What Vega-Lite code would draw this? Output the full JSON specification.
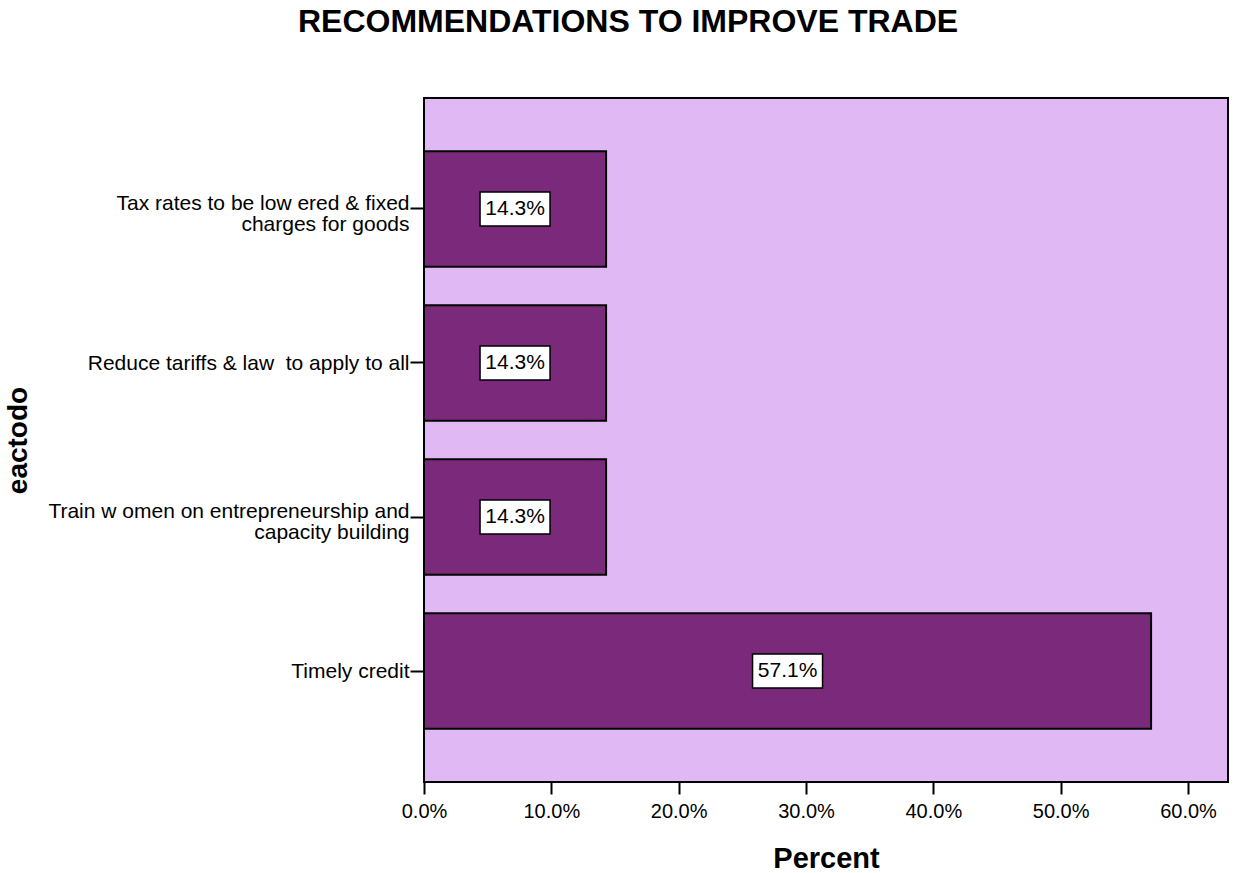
{
  "$schema": "https://vega.github.io/schema/vega-lite/v6.json",
  "autosize": "none",
  "width": 804,
  "height": 684,
  "padding": {"left": 424, "top": 98, "right": 8, "bottom": 91},
  "background": "white",
  "title": {
    "text": "RECOMMENDATIONS TO IMPROVE TRADE",
    "font": "Liberation Sans",
    "fontSize": 32,
    "fontWeight": "bold",
    "color": "black",
    "anchor": "middle",
    "dx": -198,
    "offset": 59
  },
  "config": {
    "font": "Liberation Sans",
    "view": {"stroke": "black", "strokeWidth": 2, "fill": "#E0B9F4"}
  },
  "data": {
    "values": [
      {"eactodo": "Tax rates to be low ered & fixed\ncharges for goods", "pct": 0.143},
      {"eactodo": "Reduce tariffs & law\u00a0 to apply to all", "pct": 0.143},
      {"eactodo": "Train w omen on entrepreneurship and\ncapacity building", "pct": 0.143},
      {"eactodo": "Timely credit", "pct": 0.571}
    ]
  },
  "encoding": {
    "y": {
      "field": "eactodo",
      "type": "nominal",
      "sort": null,
      "scale": {"paddingInner": 0.25, "paddingOuter": 0.345},
      "axis": {
        "title": "eactodo",
        "titleFontSize": 28,
        "titleFontWeight": "bold",
        "titleColor": "black",
        "titleAngle": -90,
        "titleAlign": "center",
        "titleBaseline": "middle",
        "titleX": -406,
        "titleY": 342,
        "domain": false,
        "ticks": true,
        "tickSize": 14,
        "tickWidth": 2,
        "tickColor": "black",
        "labelPadding": 1,
        "labelFontSize": 21,
        "labelLineHeight": 21,
        "labelColor": "black",
        "labelLimit": 500,
        "labelOffset": {"condition": {"test": "indexof(datum.value, '\\n') >= 0", "value": -5}, "value": 1},
        "labelExpr": "split(datum.label, '\\n')"
      }
    }
  },
  "layer": [
    {
      "mark": {"type": "bar", "fill": "#7B297B", "stroke": "black", "strokeWidth": 2},
      "encoding": {
        "x": {
          "field": "pct",
          "type": "quantitative",
          "scale": {"domain": [0, 0.6314], "nice": false, "zero": true},
          "axis": {
            "title": "Percent",
            "titleFontSize": 29,
            "titleFontWeight": "bold",
            "titleColor": "black",
            "titleBaseline": "middle",
            "titleY": 76,
            "values": [0, 0.1, 0.2, 0.3, 0.4, 0.5, 0.6],
            "format": ".1%",
            "grid": false,
            "domain": false,
            "tickSize": 12,
            "tickWidth": 2,
            "tickColor": "black",
            "labelFontSize": 20,
            "labelPadding": 7,
            "labelColor": "black",
            "labelFlush": false
          }
        }
      }
    },
    {
      "mark": {
        "type": "point",
        "shape": "M-1,-0.486H1V0.486H-1Z",
        "size": 4900,
        "filled": true,
        "fill": "white",
        "stroke": "black",
        "strokeWidth": 1.5,
        "opacity": 1
      },
      "encoding": {
        "x": {
          "field": "pct",
          "type": "quantitative",
          "scale": {"domain": [0, 1.2628], "nice": false, "zero": true},
          "axis": null
        }
      }
    },
    {
      "mark": {"type": "text", "fontSize": 21, "color": "black", "align": "center", "baseline": "middle"},
      "encoding": {
        "x": {
          "field": "pct",
          "type": "quantitative",
          "scale": {"domain": [0, 1.2628], "nice": false, "zero": true},
          "axis": null
        },
        "text": {"field": "pct", "type": "quantitative", "format": ".1%"}
      }
    }
  ],
  "resolve": {"scale": {"x": "independent"}}
}
